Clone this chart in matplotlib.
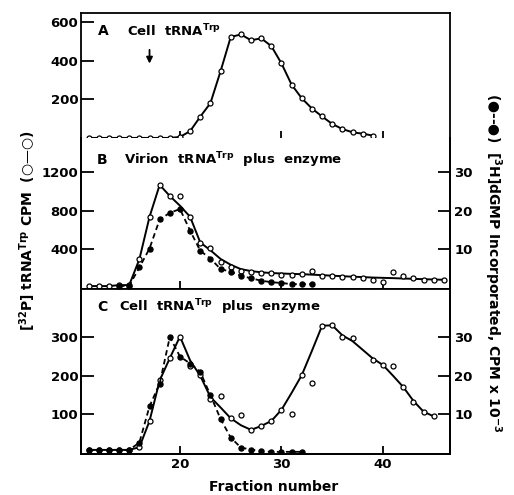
import numpy as np
import matplotlib
matplotlib.use("Agg")
import matplotlib.pyplot as plt

plt.rcParams['font.family'] = ['DejaVu Sans']
plt.rcParams['font.weight'] = 'bold'
plt.rcParams['mathtext.default'] = 'bf'

# ---- panel A : cell tRNA(Trp), 32P cpm
a_frac = [11, 12, 13, 14, 15, 16, 17, 18, 19, 20, 21, 22, 23, 24, 25, 26, 27, 28, 29,
          30, 31, 32, 33, 34, 35, 36, 37, 38, 39]
a_cpm = [0, 0, 0, 0, 0, 0, 0, 0, 0, 5, 35, 110, 180, 345, 522, 535, 505, 515, 475,
         385, 275, 205, 152, 111, 72, 46, 29, 22, 12]

# ---- panel B : virion tRNA(Trp) plus enzyme
b_frac = [11, 12, 13, 14, 15, 16, 17, 18, 19, 20, 21, 22, 23, 24, 25, 26, 27, 28,
          29, 30, 31, 32, 33, 34, 35, 36, 37, 38, 39, 40, 41, 42, 43, 44, 45, 46]
b_cpm = [20, 20, 20, 30, 30, 297, 735, 1065, 947, 947, 735, 465, 417, 270, 219, 178,
         161, 151, 151, 137, 137, 144, 178, 127, 127, 110, 110, 103, 86, 65, 161, 120,
         100, 86, 83, 83]
b_curve = [20, 20, 20, 30, 30, 297, 735, 1065, 950, 850, 735, 470, 390, 300, 240, 195,
           175, 162, 155, 150, 146, 143, 138, 133, 127, 122, 117, 113, 108, 105, 102, 98,
           95, 91, 88, 85]
b_dgmp_frac = [14, 15, 16, 17, 18, 19, 20, 21, 22, 23, 24, 25, 26, 27, 28, 29, 30, 31, 32, 33]
b_dgmp = [0.5, 0.6, 5.3, 10.2, 17.7, 19.4, 20.4, 14.8, 9.6, 7.6, 4.9, 4.2, 3.2, 2.5,
          1.9, 1.5, 1.3, 1.0, 1.0, 1.0]

# ---- panel C : cell tRNA(Trp) plus enzyme
c_frac = [11, 12, 13, 14, 15, 16, 17, 18, 19, 20, 21, 22, 23, 24, 25, 26, 27, 28, 29,
          30, 31, 32, 33, 34, 35, 36, 37, 39, 40, 41, 42, 43, 44, 45]
c_cpm = [8, 8, 8, 8, 8, 15, 83, 188, 246, 302, 225, 201, 140, 149, 90, 99, 60, 70, 83,
         112, 102, 202, 182, 330, 331, 300, 298, 242, 228, 225, 171, 132, 107, 95]
c_curve = [8, 8, 8, 8, 8, 15, 83, 188, 246, 302, 240, 200, 145, 118, 90, 72, 60, 70, 83,
           112, 156, 202, 265, 330, 331, 305, 290, 245, 228, 200, 171, 135, 107, 95]
c_dgmp_frac = [11, 12, 13, 14, 15, 16, 17, 18, 19, 20, 21, 22, 23, 24, 25, 26, 27, 28,
               29, 30, 31, 32]
c_dgmp = [0.8, 0.8, 0.8, 0.8, 0.8, 2.7, 12.1, 18.0, 30.1, 25.0, 23.2, 21.0, 15.0, 8.8,
          4.0, 1.4, 0.9, 0.5, 0.3, 0.3, 0.3, 0.3]

fig = plt.figure(figsize=(5.14, 4.95), dpi=100)
L, W = 81 / 514, 369 / 514
axA = fig.add_axes([L, 1 - 138.5 / 495, W, 125.5 / 495])
axB = fig.add_axes([L, 1 - 288.5 / 495, W, 150 / 495])
axC = fig.add_axes([L, 1 - 453.5 / 495, W, 165 / 495])

open_kw = dict(marker='o', ms=3.6, mfc='white', mec='black', mew=0.9)
fill_kw = dict(marker='o', ms=3.6, mfc='black', mec='black')

for ax in (axA, axB, axC):
    ax.set_xlim(10.25, 46.6)
    for s in ax.spines.values():
        s.set_linewidth(1.3)
    ax.set_xticks([20, 30, 40])
    ax.tick_params(axis='x', direction='in', length=6, width=1.3, labelsize=9.5)
    ax.tick_params(axis='y', direction='in', length=9, width=1.3, labelsize=9.5, pad=2)

# panel A
axA.plot(a_frac, a_cpm, color='black', lw=1.4, **open_kw)
axA.set_ylim(-3, 646)
axA.set_yticks([200, 400, 600])
axA.tick_params(axis='x', labelbottom=False)
axA.tick_params(axis='y', right=False)
axA.text(0.046, 0.857, 'A', transform=axA.transAxes, fontsize=10, va='center')
axA.text(0.125, 0.857, r'Cell  tRNA$^{Trp}$', transform=axA.transAxes, fontsize=9.5,
         va='center')
axA.annotate('', xy=(17, 370), xytext=(17, 470),
             arrowprops=dict(arrowstyle='-|>', color='black', lw=1.3, mutation_scale=9))

# panel B
axB.plot(b_frac, b_curve, color='black', lw=1.4)
axB.plot(b_frac, b_cpm, ls='none', **open_kw)
axB.set_ylim(-5, 1544)
axB.set_yticks([400, 800, 1200])
axB.tick_params(axis='x', labelbottom=False)
axB2 = axB.twinx()
axB2.plot(b_dgmp_frac, b_dgmp, color='black', lw=1.3, ls=(0, (3, 2)), **fill_kw)
axB2.set_ylim(-5 / 40, 1544 / 40)
axB2.set_yticks([10, 20, 30])
axB2.tick_params(axis='y', direction='in', length=9, width=1.3, labelsize=9.5, pad=3)
axB2.spines['top'].set_visible(False)
axB.spines['top'].set_visible(False)
axB.text(0.043, 0.857, 'B', transform=axB.transAxes, fontsize=10, va='center')
axB.text(0.117, 0.857, r'Virion  tRNA$^{Trp}$  plus  enzyme', transform=axB.transAxes,
         fontsize=9.5, va='center')

# panel C
axC.plot(c_frac, c_curve, color='black', lw=1.4)
axC.plot(c_frac, c_cpm, ls='none', **open_kw)
axC.set_ylim(-1.3, 426.5)
axC.set_yticks([100, 200, 300])
axC2 = axC.twinx()
axC2.plot(c_dgmp_frac, c_dgmp, color='black', lw=1.3, ls=(0, (3, 2)), **fill_kw)
axC2.set_ylim(-0.13, 42.65)
axC2.set_yticks([10, 20, 30])
axC2.tick_params(axis='y', direction='in', length=9, width=1.3, labelsize=9.5, pad=3)
axC2.spines['top'].set_visible(False)
axC.spines['top'].set_visible(False)
axC.text(0.043, 0.888, 'C', transform=axC.transAxes, fontsize=10, va='center')
axC.text(0.103, 0.888, r'Cell  tRNA$^{Trp}$  plus  enzyme', transform=axC.transAxes,
         fontsize=9.5, va='center')

for ax in (axA, axB, axC):
    ax.tick_params(axis='y', right=False)
for ax in (axB2, axC2):
    for s in ax.spines.values():
        s.set_linewidth(1.3)

fig.text(28 / 514, 1 - 231 / 495, r'[$^{32}$P] tRNA$^{Trp}$ CPM  (○—○)', rotation=90,
         ha='center', va='center', fontsize=10)
fig.text(493 / 514, 1 - 263 / 495,
         r'(●--●)  [$^{3}$H]dGMP Incorporated, CPM x 10$^{-3}$', rotation=270,
         ha='center', va='center', fontsize=10)
fig.text(274 / 514, 1 - 487 / 495, 'Fraction number', ha='center', va='center', fontsize=10)

fig.savefig('out.png', dpi=100)
